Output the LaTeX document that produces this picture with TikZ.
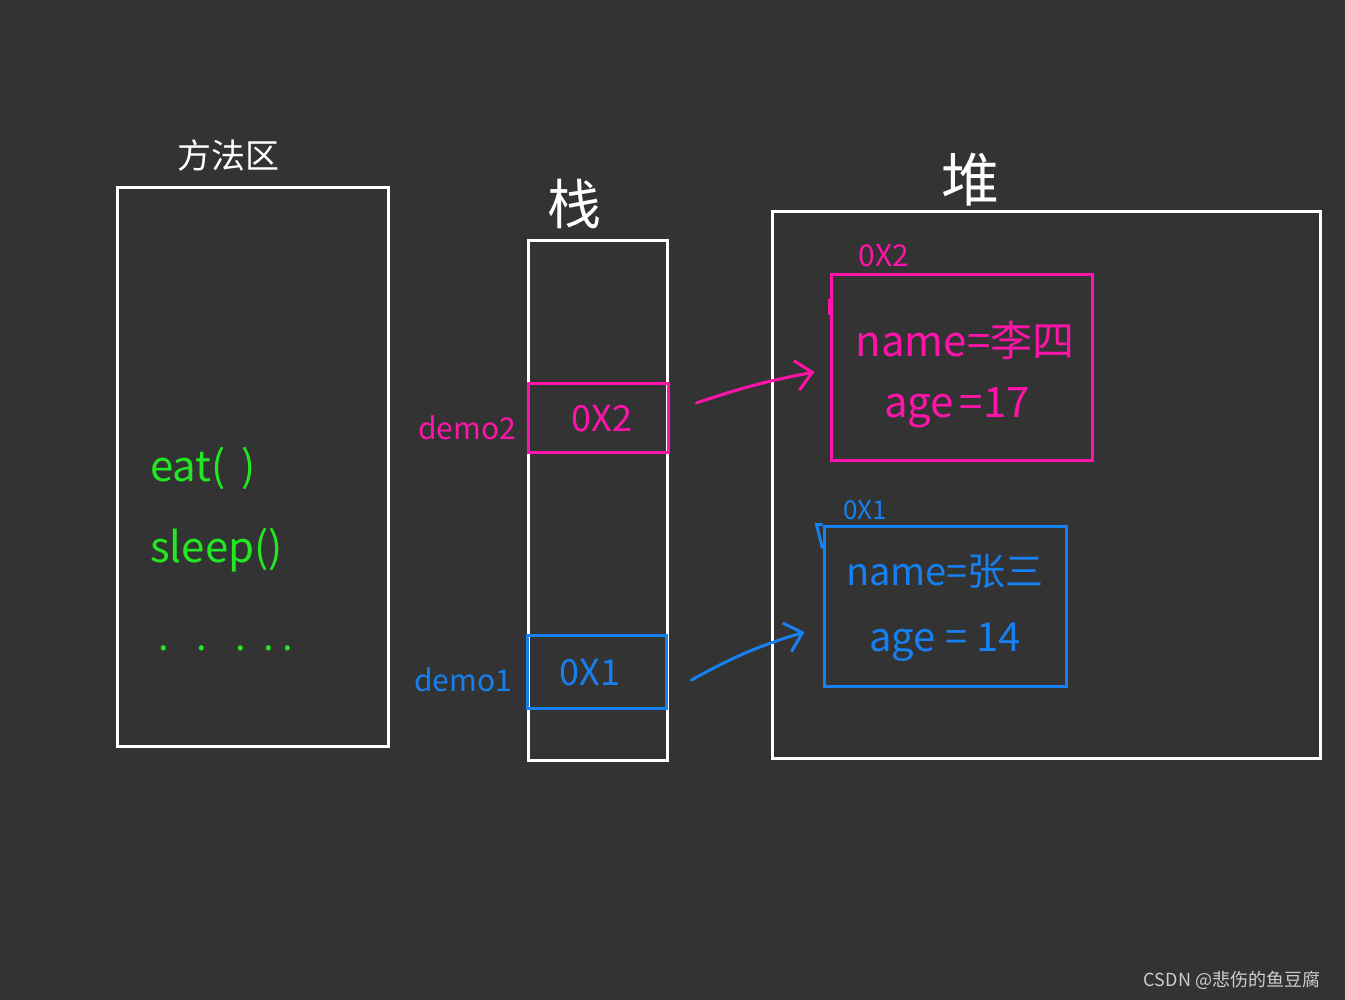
\documentclass[tikz,border=0pt]{standalone}
\usepackage{fontspec}
\setmainfont{Noto Sans CJK SC}
\usetikzlibrary{arrows.meta}
\definecolor{bgc}{RGB}{51,51,51}
\definecolor{pinkc}{RGB}{255,20,170}
\definecolor{bluec}{RGB}{22,128,240}
\definecolor{greenc}{RGB}{34,232,34}
\definecolor{wmc}{RGB}{205,205,205}
\begin{document}
\begin{tikzpicture}[x=1pt,y=-1pt,
  wbox/.style={draw=white,line width=3pt,inner sep=0pt,rectangle},
  pbox/.style={draw=pinkc,line width=3pt,inner sep=0pt,rectangle},
  bbox/.style={draw=bluec,line width=3pt,inner sep=0pt,rectangle},
  title/.style={text=white,inner sep=0pt},
  ptext/.style={text=pinkc,inner sep=0pt},
  btext/.style={text=bluec,inner sep=0pt},
  gtext/.style={text=greenc,inner sep=0pt,anchor=west},
  parrow/.style={draw=pinkc,line width=3pt,line cap=round,-{Straight Barb[length=16pt,width=30pt,line width=3pt]}},
  barrow/.style={draw=bluec,line width=3pt,line cap=round,-{Straight Barb[length=16pt,width=30pt,line width=3pt]}}]
\fill[bgc] (0,0) rectangle (1345,1000);
% method area
\node[wbox,minimum width=271pt,minimum height=558pt] (method) at (252.5,467) {};
\node[title,font=\fontsize{34}{36}\selectfont] (methodt) at (228,156) {方法区};
\node[gtext,font=\fontsize{42}{44}\selectfont] (eat) at (150,468) {eat(\hspace{16pt})};
\node[gtext,font=\fontsize{42}{44}\selectfont] (sleep) at (150,550) {sleep()};
\node[gtext,font=\fontsize{38}{40}\selectfont] (dots) at (158,648) {.\hspace{28pt}.\hspace{28pt}.\hspace{18pt}.\hspace{8pt}.};
% stack
\node[wbox,minimum width=139pt,minimum height=519pt] (stack) at (597.5,500.5) {};
\node[title,font=\fontsize{54}{56}\selectfont] (stackt) at (574,204) {栈};
\node[pbox,minimum width=140pt,minimum height=68pt] (cell2) at (598,418) {};
\node[ptext,font=\fontsize{36}{38}\selectfont] (cell2t) at (602,419) {0X2};
\node[ptext,font=\fontsize{30}{32}\selectfont] (demo2) at (467,428) {demo2};
\node[bbox,minimum width=139pt,minimum height=73pt] (cell1) at (596.5,671.5) {};
\node[btext,font=\fontsize{36}{38}\selectfont] (cell1t) at (590,673) {0X1};
\node[btext,font=\fontsize{30}{32}\selectfont] (demo1) at (463,680) {demo1};
% heap
\node[wbox,minimum width=548pt,minimum height=546pt] (heap) at (1046,485) {};
\node[title,font=\fontsize{58}{60}\selectfont] (heapt) at (970,180) {堆};
\node[pbox,minimum width=261pt,minimum height=185pt] (obj2) at (961.5,367.5) {};
\draw[pinkc,line width=4pt] ([yshift=-42pt]obj2.north west) -- ++(0,-16);
\node[ptext,font=\fontsize{30}{32}\selectfont] (obj2l) at (884,256) {0X2};
\node[ptext,font=\fontsize{42}{44}\selectfont] (obj2n) at (965,340) {name=李四};
\node[ptext,font=\fontsize{42}{44}\selectfont] (obj2a) at (957,408) {age\hspace{6pt}=17};
\node[bbox,minimum width=242pt,minimum height=160pt] (obj1) at (945,606) {};
\draw[bluec,line width=3pt] (obj1.north west) -- ++(-6,0) -- ([yshift=-24pt]obj1.north west);
\node[btext,font=\fontsize{26}{28}\selectfont] (obj1l) at (865,510) {0X1};
\node[btext,font=\fontsize{38}{40}\selectfont] (obj1n) at (945,572) {name=张三};
\node[btext,font=\fontsize{40}{42}\selectfont] (obj1a) at (945,642) {age = 14};
% arrows
\draw[parrow] ([xshift=27pt,yshift=15pt]cell2.east) to[bend left=4] ([xshift=-15pt,yshift=-4.5pt]obj2.west);
\draw[barrow] ([xshift=24pt,yshift=-8.5pt]cell1.east) to[bend left=6] ([xshift=-18pt,yshift=-26pt]obj1.west);
% watermark
\node[text=wmc,inner sep=0pt,font=\fontsize{18}{20}\selectfont] (wm) at (1232,980) {CSDN @悲伤的鱼豆腐};
\end{tikzpicture}
\end{document}
